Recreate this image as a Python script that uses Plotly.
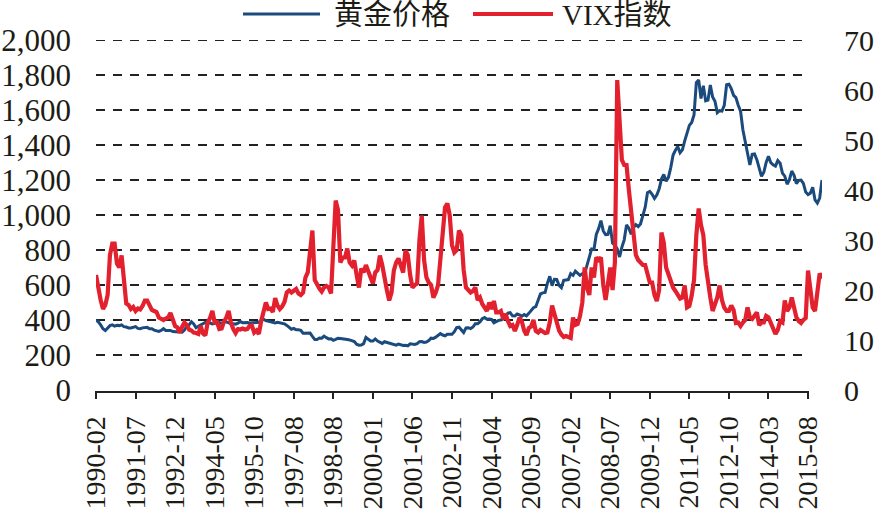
import plotly.graph_objects as go
import pandas as pd

# ---------------- data ----------------
months = pd.period_range("1990-02", "2016-02", freq="M").strftime("%Y-%m").tolist()

gold_price = (
    [400, 390, 372, 350, 340, 352, 368, 372, 365, 370, 368]  # 1990 Feb-Dec
    + [372, 362, 360, 355, 355, 360, 362, 352, 350, 355, 357, 358]  # 1991
    + [350, 350, 342, 337, 335, 340, 350, 340, 342, 340, 334, 333]  # 1992
    + [328, 328, 330, 342, 365, 372, 390, 378, 356, 364, 372, 382]  # 1993
    + [386, 382, 384, 377, 381, 385, 385, 380, 391, 389, 384, 379]  # 1994
    + [379, 376, 382, 391, 385, 387, 386, 383, 383, 383, 386, 387]  # 1995
    + [398, 404, 396, 393, 392, 385, 383, 387, 383, 381, 378, 369]  # 1996
    + [355, 347, 352, 344, 344, 341, 324, 324, 323, 325, 306, 289]  # 1997
    + [289, 297, 296, 308, 299, 292, 293, 284, 289, 296, 294, 291]  # 1998
    + [287, 288, 286, 282, 277, 262, 256, 257, 265, 300, 290, 280]  # 1999
    + [280, 292, 280, 272, 266, 276, 272, 265, 264, 260, 256, 262]  # 2000
    + [258, 254, 255, 252, 264, 262, 260, 265, 276, 277, 272, 274]  # 2001
    + [282, 296, 294, 302, 314, 322, 314, 310, 319, 317, 319, 333]  # 2002
    + [357, 359, 340, 328, 355, 356, 351, 360, 379, 379, 389, 407]  # 2003
    + [414, 405, 406, 404, 384, 392, 398, 400, 406, 420, 439, 442]  # 2004
    + [424, 423, 434, 429, 422, 431, 424, 438, 456, 470, 476, 510]  # 2005
    + [549, 555, 557, 610, 650, 596, 633, 632, 598, 585, 627, 629]  # 2006
    + [631, 665, 655, 679, 667, 655, 665, 665, 712, 754, 806, 803]  # 2007
    + [889, 922, 968, 909, 888, 889, 939, 839, 829, 806, 760, 816]  # 2008
    + [858, 943, 924, 890, 928, 945, 934, 949, 996, 1043, 1127, 1135]  # 2009
    + [1118, 1095, 1114, 1148, 1205, 1232, 1193, 1215, 1271, 1343, 1370, 1391]  # 2010
    + [1356, 1372, 1424, 1473, 1512, 1529, 1572, 1756, 1772, 1666, 1739, 1652]  # 2011
    + [1656, 1743, 1674, 1650, 1585, 1596, 1594, 1626, 1744, 1747, 1722, 1684]  # 2012
    + [1671, 1627, 1593, 1487, 1414, 1342, 1286, 1347, 1349, 1316, 1275, 1221]  # 2013
    + [1244, 1300, 1336, 1299, 1287, 1279, 1311, 1296, 1239, 1222, 1176, 1202]  # 2014
    + [1251, 1227, 1179, 1198, 1199, 1181, 1131, 1117, 1125, 1159, 1086, 1068]  # 2015
    + [1097, 1200]  # 2016 Jan-Feb
)

vix_index = (
    [23.0, 20.3, 18.0, 16.2, 17.0, 19.0, 27.0, 29.3, 29.3, 25.3, 24.5]  # 1990 Feb-Dec
    + [26.9, 21.0, 17.3, 17.0, 16.2, 16.6, 15.8, 16.3, 16.1, 16.8, 17.9, 17.9]  # 1991
    + [16.8, 16.0, 15.8, 15.6, 14.5, 14.2, 14.0, 14.3, 14.5, 15.4, 14.1, 12.8]  # 1992
    + [12.5, 11.5, 12.6, 13.5, 13.0, 12.1, 11.9, 11.5, 11.4, 11.2, 12.8, 11.3]  # 1993
    + [10.9, 13.5, 14.4, 15.8, 13.5, 13.6, 12.2, 12.3, 13.7, 14.5, 15.8, 13.4]  # 1994
    + [12.2, 11.4, 12.2, 12.1, 12.3, 12.1, 12.2, 12.8, 12.9, 11.5, 11.9, 11.2]  # 1995
    + [13.8, 15.7, 17.5, 16.2, 16.3, 15.6, 18.4, 16.9, 16.2, 16.7, 17.6, 19.5]  # 1996
    + [19.9, 19.5, 19.9, 20.2, 19.3, 19.0, 19.5, 22.5, 23.5, 27.0, 31.9, 22.0]  # 1997
    + [21.0, 20.3, 19.7, 20.5, 20.8, 20.5, 19.3, 30.0, 37.9, 36.0, 25.5, 26.5]  # 1998
    + [26.5, 28.3, 25.5, 24.9, 25.9, 23.0, 20.5, 24.3, 23.5, 25.0, 23.5, 22.5]  # 1999
    + [21.3, 23.5, 24.0, 26.9, 25.0, 21.9, 20.0, 17.9, 19.5, 23.9, 25.5, 26.3]  # 2000
    + [25.0, 23.5, 27.9, 27.0, 23.0, 20.5, 21.0, 21.3, 30.0, 34.9, 26.0, 22.5]  # 2001
    + [21.5, 21.0, 18.5, 19.5, 21.0, 25.9, 33.0, 36.5, 37.3, 35.0, 29.0, 27.5]  # 2002
    + [28.0, 31.9, 31.0, 24.0, 20.5, 19.9, 19.5, 19.8, 20.5, 18.0, 18.5, 17.2]  # 2003
    + [16.5, 15.8, 17.5, 16.2, 17.8, 15.5, 15.5, 15.8, 14.2, 15.2, 13.8, 12.8]  # 2004
    + [13.0, 11.8, 13.0, 14.5, 13.7, 11.9, 11.0, 12.4, 12.7, 14.0, 11.8, 11.5]  # 2005
    + [12.0, 11.8, 11.4, 11.5, 13.5, 16.9, 15.2, 13.1, 11.9, 11.1, 10.6, 10.8]  # 2006
    + [10.6, 10.4, 14.5, 13.0, 13.2, 14.8, 17.5, 24.5, 20.5, 19.0, 24.5, 22.5]  # 2007
    + [26.5, 26.0, 26.5, 21.0, 18.0, 21.5, 24.5, 20.0, 25.5, 62.0, 55.0, 46.0]  # 2008
    + [45.0, 45.0, 40.0, 35.0, 30.0, 27.0, 26.0, 25.5, 25.0, 25.0, 23.0, 21.5]  # 2009
    + [21.5, 19.0, 17.8, 20.0, 31.5, 29.5, 24.5, 23.0, 21.5, 20.5, 19.8, 19.0]  # 2010
    + [18.3, 18.5, 20.9, 16.5, 16.8, 18.9, 22.0, 31.0, 36.3, 33.0, 31.0, 25.0]  # 2011
    + [21.0, 18.5, 15.8, 17.0, 18.5, 20.9, 18.0, 16.5, 15.8, 15.8, 16.9, 16.0]  # 2012
    + [13.4, 13.5, 12.8, 13.5, 14.0, 16.5, 14.5, 14.2, 14.8, 15.5, 13.0, 13.5]  # 2013
    + [13.5, 14.8, 14.5, 13.4, 12.5, 11.2, 12.0, 13.8, 13.5, 17.9, 15.8, 16.5]  # 2014
    + [18.5, 16.0, 14.5, 13.8, 13.4, 14.0, 14.4, 23.9, 20.0, 16.5, 15.8, 20.0]  # 2015
    + [23.3, 22.3]  # 2016 Jan-Feb
)

tick_labels = ["1990-02", "1991-07", "1992-12", "1994-05", "1995-10", "1997-08",
               "1998-08", "2000-01", "2001-06", "2002-11", "2004-04", "2005-09",
               "2007-02", "2008-07", "2009-12", "2011-05", "2012-10", "2014-03",
               "2015-08"]
tick_positions = months[::17][:len(tick_labels)]

left_ticks = list(range(0, 2001, 200))
right_ticks = list(range(0, 71, 10))

series_names = ["黄金价格", "VIX指数"]

# ---------------- style ----------------
GOLD_COLOR = "#1b4a7c"
VIX_COLOR = "#e3202e"
TEXT_COLOR = "#1c1c14"
SERIF = "Liberation Serif, Times New Roman, serif"
CJK = "Liberation Serif, Noto Sans CJK SC, sans-serif"

fig = go.Figure()
fig.add_trace(go.Scatter(x=months, y=gold_price, name=series_names[0], mode="lines",
                         line=dict(color=GOLD_COLOR, width=3.0), yaxis="y"))
fig.add_trace(go.Scatter(x=months, y=vix_index, name=series_names[1], mode="lines",
                         line=dict(color=VIX_COLOR, width=4.2), yaxis="y2"))

# dashed horizontal gridlines (left scale)
grid_end = 304.3
for v in left_ticks[1:]:
    fig.add_shape(type="line", xref="x", yref="y", x0=0, x1=grid_end, y0=v, y1=v,
                  line=dict(color="#222222", width=2, dash="9px,8px"), layer="below")

# x axis baseline (ends at last tick)
fig.add_shape(type="line", xref="x", yref="paper", x0=0, x1=306, y0=-0.006, y1=-0.006,
              line=dict(color="#222222", width=2))

# manual legend
plot_l, plot_w, plot_b, plot_h = 96, 726, 390, 350
def px_x(p):
    return (p - plot_l) / plot_w
def px_y(p):
    return (plot_b - p) / plot_h

legend_items = [
    (series_names[0], GOLD_COLOR, 3.0, 243, 320, 332),
    (series_names[1], VIX_COLOR, 4.2, 473, 553, 560),
]
for name, color, w, lx0, lx1, tx in legend_items:
    fig.add_shape(type="line", xref="paper", yref="paper",
                  x0=px_x(lx0), x1=px_x(lx1), y0=px_y(14), y1=px_y(14),
                  line=dict(color=color, width=w))
    fig.add_annotation(xref="paper", yref="paper", x=px_x(tx), y=px_y(15),
                       text=name, showarrow=False, xanchor="left", yanchor="middle",
                       font=dict(family=CJK, size=29, color=TEXT_COLOR))

fig.update_layout(
    width=877, height=511,
    margin=dict(l=96, r=55, t=40, b=121, autoexpand=False),
    paper_bgcolor="white", plot_bgcolor="white",
    showlegend=False,
    xaxis=dict(type="category", range=[0, 312], tickmode="array",
               tickvals=tick_positions, ticktext=tick_labels, tickangle=-90,
               ticks="outside", ticklen=8, tickwidth=2, tickcolor="#222222",
               ticklabelstandoff=6,
               showgrid=False, showline=False, zeroline=False,
               tickfont=dict(family=SERIF, size=28, color=TEXT_COLOR),
               automargin=False),
    yaxis=dict(range=[0, 2000], tickmode="array", tickvals=left_ticks,
               tickformat=",d", showgrid=False, zeroline=False, showline=False,
               ticks="", ticklabelstandoff=24,
               tickfont=dict(family=SERIF, size=31, color=TEXT_COLOR),
               automargin=False),
    yaxis2=dict(range=[0, 70], overlaying="y", side="right", tickmode="array",
                tickvals=right_ticks, showgrid=False, zeroline=False, showline=False,
                ticks="", ticklabelstandoff=21,
                tickfont=dict(family=SERIF, size=30, color=TEXT_COLOR),
                automargin=False),
)

fig.write_html("out.html")
